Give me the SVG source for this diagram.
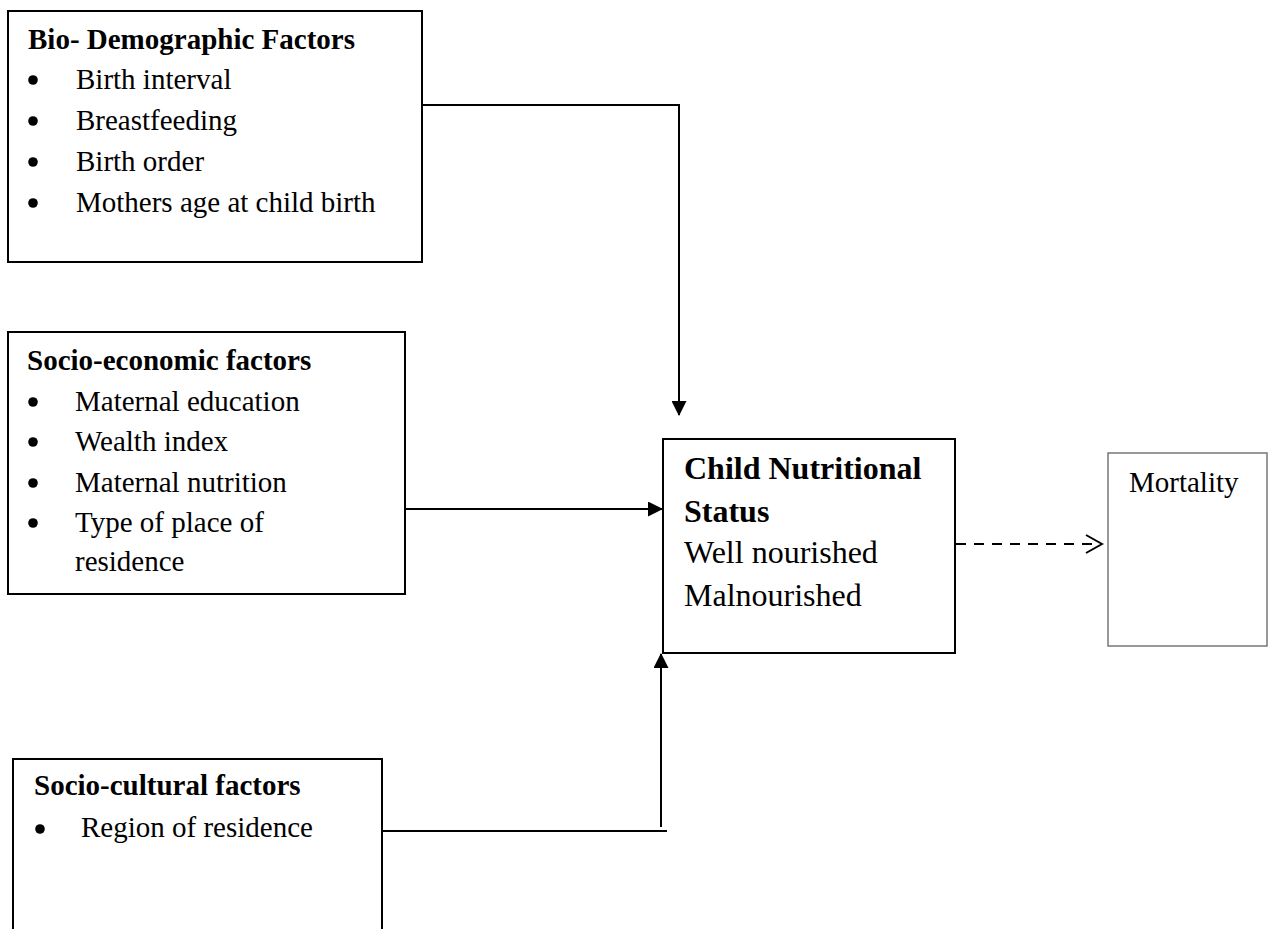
<svg xmlns="http://www.w3.org/2000/svg" width="1271" height="929" viewBox="0 0 1271 929">
<style>
  .box { fill: #fff; stroke: #000; stroke-width: 2; }
  .gbox { fill: #fff; stroke: #777; stroke-width: 1.5; }
  text { font-family: "Liberation Serif", "Times New Roman", serif; fill: #000; }
  .t { font-size: 29px; }
  .h { font-size: 29px; font-weight: bold; }
  .ct { font-size: 32px; }
  .ch { font-size: 32px; font-weight: bold; }
  .dot { fill: #000; }
  .ln { fill: none; stroke: #000; stroke-width: 2; }
  .dash { fill: none; stroke: #000; stroke-width: 2; stroke-dasharray: 10 8; }
</style>
<defs>
  <marker id="arr" markerWidth="15" markerHeight="15" viewBox="0 0 15 15" refX="14" refY="7.5" orient="auto" markerUnits="userSpaceOnUse">
    <path d="M0,0 L15,7.5 L0,15 Z" fill="#000"/>
  </marker>
  <marker id="open" markerWidth="20" markerHeight="22" viewBox="0 0 20 22" refX="18" refY="11" orient="auto" markerUnits="userSpaceOnUse">
    <path d="M2,2 L18,11 L2,20" fill="none" stroke="#000" stroke-width="2"/>
  </marker>
</defs>
<rect width="1271" height="929" fill="#fff"/>

<g id="connectors">
  <path class="ln" d="M422,105 H679 V415" marker-end="url(#arr)"/>
  <path class="ln" d="M405,509 H662" marker-end="url(#arr)"/>
  <path class="ln" d="M379,831 H667"/>
  <path class="ln" d="M661,827 V654" marker-end="url(#arr)"/>
  <path class="dash" d="M956,544 H1102" marker-end="url(#open)"/>
</g>

<g id="bio-demographic">
  <rect class="box" x="8" y="11" width="414" height="251"/>
  <text class="h" x="28" y="49">Bio- Demographic Factors</text>
  <circle class="dot" cx="33" cy="80" r="4.8"/><text class="t" x="76" y="89">Birth interval</text>
  <circle class="dot" cx="33" cy="121" r="4.8"/><text class="t" x="76" y="130">Breastfeeding</text>
  <circle class="dot" cx="33" cy="162" r="4.8"/><text class="t" x="76" y="171">Birth order</text>
  <circle class="dot" cx="33" cy="203" r="4.8"/><text class="t" x="76" y="212">Mothers age at child birth</text>
</g>

<g id="socio-economic">
  <rect class="box" x="8" y="332" width="397" height="262"/>
  <text class="h" x="27" y="370">Socio-economic factors</text>
  <circle class="dot" cx="33" cy="402" r="4.8"/><text class="t" x="75" y="411">Maternal education</text>
  <circle class="dot" cx="33" cy="442" r="4.8"/><text class="t" x="75" y="451">Wealth index</text>
  <circle class="dot" cx="33" cy="483" r="4.8"/><text class="t" x="75" y="492">Maternal nutrition</text>
  <circle class="dot" cx="33" cy="523" r="4.8"/><text class="t" x="75" y="532">Type of place of</text>
  <text class="t" x="75" y="571">residence</text>
</g>

<g id="socio-cultural">
  <rect class="box" x="13" y="759" width="369" height="200"/>
  <text class="h" x="34" y="795">Socio-cultural factors</text>
  <circle class="dot" cx="40" cy="829" r="4.8"/><text class="t" x="81" y="837">Region of residence</text>
</g>

<g id="child-nutritional-status">
  <rect class="box" x="663" y="439" width="292" height="214"/>
  <text class="ch" x="684" y="479">Child Nutritional</text>
  <text class="ch" x="684" y="522">Status</text>
  <text class="ct" x="684" y="563">Well nourished</text>
  <text class="ct" x="684" y="606">Malnourished</text>
</g>

<g id="mortality">
  <rect class="gbox" x="1108" y="453" width="159" height="193"/>
  <text class="t" x="1129" y="492">Mortality</text>
</g>
</svg>
